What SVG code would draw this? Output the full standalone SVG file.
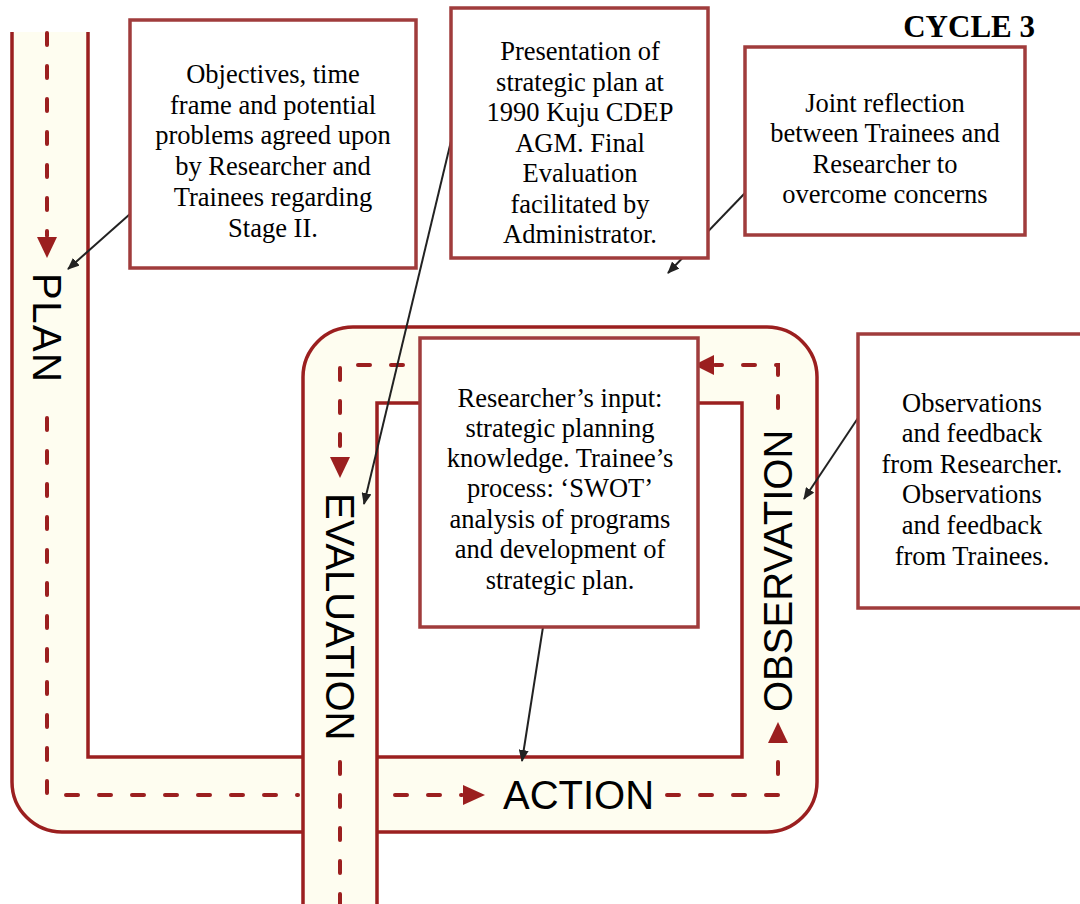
<svg xmlns="http://www.w3.org/2000/svg" width="1080" height="904" viewBox="0 0 1080 904">
<style>
.band{fill:#fefdf0;stroke:none}
.edge{fill:none;stroke:#9b1f1f;stroke-width:3.5}
.dash{fill:none;stroke:#9b1f1f;stroke-width:4;stroke-dasharray:12 21;stroke-linecap:round}
.ah{fill:#9b1f1f}
.box{fill:#fff;stroke:#a03c3c;stroke-width:3.5}
.t{font-family:"Liberation Serif","Times New Roman",serif;font-size:26.5px;fill:#000;text-anchor:middle}
.lab{font-family:"Liberation Sans",Arial,sans-serif;font-size:40px;fill:#000}
.conn{fill:none;stroke:#222;stroke-width:2;marker-end:url(#arr)}
</style>
<defs>
<marker id="arr" viewBox="0 0 12 10" refX="11" refY="5" markerWidth="12" markerHeight="10" markerUnits="userSpaceOnUse" orient="auto">
<path d="M0,0 L12,5 L0,10 Z" fill="#222"/>
</marker>
</defs>
<rect width="1080" height="904" fill="#fff"/>
<g id="cycle-band">
<path class="band" d="M12,32 V782 A50,50 0 0 0 62,832 H303 V757 H88 V32 Z"/>
<path class="band" fill-rule="evenodd" d="M353,327 H767 A50,50 0 0 1 817,377 V782 A50,50 0 0 1 767,832 H303 V377 A50,50 0 0 1 353,327 Z M377,403 H742 V757 H377 Z"/>
<rect class="band" x="303" y="830" width="74" height="74"/>
<path class="edge" d="M12,32 V782 A50,50 0 0 0 62,832 H303"/>
<path class="edge" d="M88,32 V757 H303"/>
<path class="edge" d="M303,904 V377 A50,50 0 0 1 353,327 H767 A50,50 0 0 1 817,377 V782 A50,50 0 0 1 767,832 H377"/>
<path class="edge" d="M377,904 V403 H742 V757 H377"/>
</g>
<g id="flow">
<path class="dash" d="M47,33 V236"/>
<polygon class="ah" points="37,237 57,237 47,258"/>
<path class="dash" d="M47,418 V795 H298"/>
<path class="dash" d="M395,795 H462"/>
<polygon class="ah" points="463,785 463,805 485,795"/>
<path class="dash" d="M667,795 H778 V745"/>
<polygon class="ah" points="768,743 788,743 778,722"/>
<path class="dash" d="M778,408 V365 H715"/>
<polygon class="ah" points="714,355 714,375 694,365"/>
<path class="dash" d="M700,365 H340 V456"/>
<polygon class="ah" points="330,457 350,457 340,478"/>
<path class="dash" d="M340,762 V904"/>
</g>
<g id="labels">
<text class="lab" transform="translate(47,273) rotate(90)" x="0" y="14.3" textLength="109" lengthAdjust="spacing">PLAN</text>
<text class="lab" transform="translate(340,493) rotate(90)" x="0" y="14.3">EVALUATION</text>
<text class="lab" transform="translate(778,712) rotate(-90)" x="0" y="14.3">OBSERVATION</text>
<text class="lab" x="503" y="809">ACTION</text>
</g>
<g id="title">
<text x="1035" y="37" style="font-family:'Liberation Serif','Times New Roman',serif;font-size:31px;font-weight:bold;text-anchor:end">CYCLE 3</text>
</g>
<g id="connectors">
<line class="conn" x1="130" y1="214" x2="68" y2="269"/>
<line class="conn" x1="452" y1="137" x2="364" y2="504"/>
<line class="conn" x1="745" y1="193" x2="668" y2="273"/>
<line class="conn" x1="858" y1="418" x2="804" y2="499"/>
<line class="conn" x1="543" y1="627" x2="522" y2="761"/>
</g>
<g id="box-plan">
<rect class="box" x="130" y="20" width="286" height="248"/>
<text class="t"><tspan x="273" y="83">Objectives, time</tspan><tspan x="273" y="114">frame and potential</tspan><tspan x="273" y="144">problems agreed upon</tspan><tspan x="273" y="175">by Researcher and</tspan><tspan x="273" y="206">Trainees regarding</tspan><tspan x="273" y="237">Stage II.</tspan></text>
</g>
<g id="box-evaluation">
<rect class="box" x="451" y="8" width="257" height="250"/>
<text class="t"><tspan x="580" y="60">Presentation of</tspan><tspan x="580" y="91">strategic plan at</tspan><tspan x="580" y="121">1990 Kuju CDEP</tspan><tspan x="580" y="152">AGM. Final</tspan><tspan x="580" y="182">Evaluation</tspan><tspan x="580" y="213">facilitated by</tspan><tspan x="580" y="243">Administrator.</tspan></text>
</g>
<g id="box-reflection">
<rect class="box" x="745" y="47" width="280" height="188"/>
<text class="t"><tspan x="885" y="112">Joint reflection</tspan><tspan x="885" y="142">between Trainees and</tspan><tspan x="885" y="173">Researcher to</tspan><tspan x="885" y="203">overcome concerns</tspan></text>
</g>
<g id="box-action">
<rect class="box" x="420" y="338" width="278" height="289"/>
<text class="t"><tspan x="560" y="407">Researcher’s input:</tspan><tspan x="560" y="437">strategic planning</tspan><tspan x="560" y="467">knowledge. Trainee’s</tspan><tspan x="560" y="497">process: ‘SWOT’</tspan><tspan x="560" y="528">analysis of programs</tspan><tspan x="560" y="558">and development of</tspan><tspan x="560" y="589">strategic plan.</tspan></text>
</g>
<g id="box-observation">
<rect class="box" x="858" y="334" width="240" height="274"/>
<text class="t"><tspan x="972" y="412">Observations</tspan><tspan x="972" y="442">and feedback</tspan><tspan x="972" y="473">from Researcher.</tspan><tspan x="972" y="503">Observations</tspan><tspan x="972" y="534">and feedback</tspan><tspan x="972" y="565">from Trainees.</tspan></text>
</g>
</svg>
